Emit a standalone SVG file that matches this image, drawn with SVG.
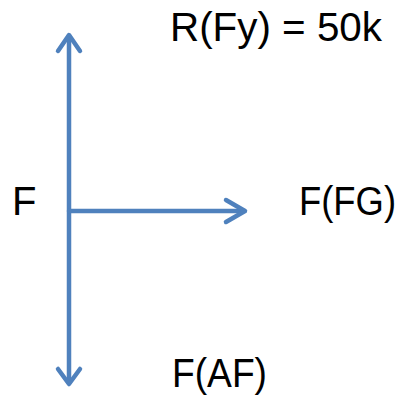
<svg xmlns="http://www.w3.org/2000/svg" width="403" height="398" viewBox="0 0 403 398">
<style>
.c{stroke:#4F81BD;stroke-width:4.5;fill:none;stroke-linecap:round;stroke-linejoin:round}
.t{font-family:"Liberation Sans",Arial,sans-serif;font-size:40px;fill:#000}
</style>
<rect width="403" height="398" fill="#fff"/>
<g id="connectors">
<path class="c" d="M69,36 V383"/>
<path class="c" d="M58,51 L69,35 L80,51"/>
<path class="c" d="M58,369 L69,384 L80,369"/>
<path class="c" d="M69,211 H244"/>
<path class="c" d="M226,200 L245,211 L226,222"/>
</g>
<g id="node-F"><text class="t" x="12" y="215">F</text></g>
<g id="node-R"><text class="t" x="170" y="41" textLength="212" lengthAdjust="spacingAndGlyphs">R(Fy) = 50k</text></g>
<g id="node-FG"><text class="t" x="299" y="215" textLength="97" lengthAdjust="spacingAndGlyphs">F(FG)</text></g>
<g id="node-AF"><text class="t" x="172" y="387" textLength="95" lengthAdjust="spacingAndGlyphs">F(AF)</text></g>
</svg>
